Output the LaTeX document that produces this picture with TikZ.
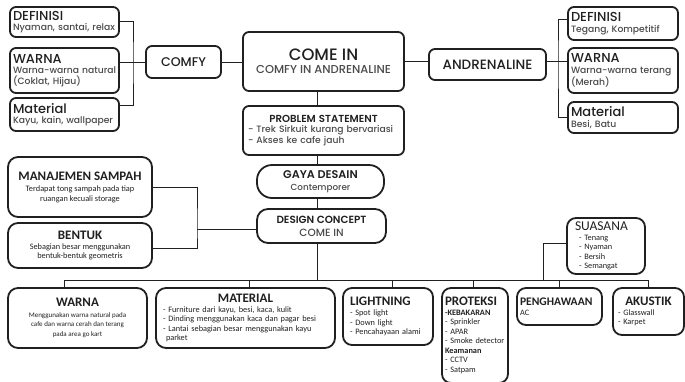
\documentclass[tikz,border=0pt]{standalone}
\usepackage{fontspec}
\setmainfont{Poppins}[UprightFont=* Medium, BoldFont=* SemiBold]
\newfontfamily\calfont{Carlito}
\usepackage{tikz}
\usetikzlibrary{positioning,calc}

\definecolor{ink}{HTML}{202020}
\definecolor{txt}{HTML}{4A4A4A}

\newcommand{\headsize}{\fontsize{13}{14}\selectfont}
\newcommand{\bodysize}{\fontsize{9.2}{10.5}\selectfont}
\newcommand{\tinysize}{\calfont\fontsize{8.3}{9.5}\selectfont\color{txt}}
\newcommand{\boldhead}{\fontsize{13}{14}\selectfont\bfseries}

\tikzset{
  box/.style={draw=ink, line width=1.8pt, rounded corners=6pt, inner sep=3pt, text=ink},
  link/.style={draw=ink, line width=1pt},
}

\begin{document}
\begin{tikzpicture}[x=1pt, y=-1pt]
    \useasboundingbox (0,0) rectangle (685,381);

    % left group
    \node[box, text width=103pt, minimum height=30pt, align=left, font=\bodysize] (defl) at (64.5,22)
        {{\headsize DEFINISI}\\{\color{txt}Nyaman, santai, relax}};
    \node[box, text width=103pt, minimum height=45pt, align=left, font=\bodysize] (warl) at (64.5,70.5)
        {{\headsize WARNA}\\{\color{txt}Warna-warna natural}\\{\color{txt}(Coklat, Hijau)}};
    \node[box, text width=103pt, minimum height=33pt, align=left, font=\bodysize] (matl) at (64.5,114.5)
        {{\headsize Material}\\{\color{txt}Kayu, kain, wallpaper}};
    \node[box, minimum width=75pt, minimum height=32pt, font=\fontsize{12.6}{14}\selectfont] (comfy) at (183.5,62) {COMFY};

    % centre column
    \node[box, minimum width=161pt, minimum height=59pt, align=center] (comein) at (323.5,61.5)
        {{\fontsize{16.5}{18}\selectfont COME IN}\\[1pt]{\fontsize{11.5}{13}\selectfont\color{txt}COMFY IN ANDRENALINE}};
    \node[box, text width=151pt, minimum height=49pt, inner xsep=5pt, align=left, font=\bodysize] (prob) at (323.5,130.5)
        {\makebox[\linewidth][c]{\fontsize{10.2}{11}\selectfont\bfseries PROBLEM STATEMENT}\\
         {\color{txt}- Trek Sirkuit kurang bervariasi}\\{\color{txt}- Akses ke cafe jauh}};
    \node[box, minimum width=127pt, minimum height=33pt, rounded corners=15pt, align=center] (gaya) at (320.5,181.5)
        {{\fontsize{11.2}{12}\selectfont\bfseries GAYA DESAIN}\\{\fontsize{8.8}{9.5}\selectfont\color{txt}Contemporer}};
    \node[box, minimum width=129pt, minimum height=34pt, rounded corners=11pt, align=center] (dc) at (321.5,226)
        {{\fontsize{10.4}{11}\selectfont\bfseries DESIGN CONCEPT}\\[1pt]{\fontsize{10.5}{12}\selectfont\color{txt}COME IN}};

    % right group
    \node[box, minimum width=117pt, minimum height=31pt, font=\fontsize{13.5}{15}\selectfont] (andre) at (487.5,64.5) {ANDRENALINE};
    \node[box, text width=104pt, minimum height=33pt, align=left, font=\bodysize] (defr) at (623,23.5)
        {{\headsize DEFINISI}\\{\color{txt}Tegang, Kompetitif}};
    \node[box, text width=104pt, minimum height=45pt, align=left, font=\bodysize] (warr) at (623,70.5)
        {{\headsize WARNA}\\{\color{txt}Warna-warna terang}\\{\color{txt}(Merah)}};
    \node[box, text width=104pt, minimum height=31pt, align=left, font=\bodysize] (matr) at (623,117.5)
        {{\headsize Material}\\{\color{txt}Besi, Batu}};

    % middle left
    \node[box, minimum width=144pt, minimum height=60pt, rounded corners=10pt, align=center, font=\tinysize] (mana) at (80,187)
        {{\boldhead\color{ink} MANAJEMEN SAMPAH}\\[2pt]Terdapat tong sampah pada tiap\\ruangan kecuali storage};
    \node[box, minimum width=144pt, minimum height=45pt, rounded corners=10pt, align=center, font=\tinysize] (bent) at (80,245.5)
        {{\boldhead\color{ink} BENTUK}\\Sebagian besar menggunakan\\bentuk-bentuk geometris};
    \node[box, text width=62pt, minimum height=56pt, inner xsep=8pt, rounded corners=9pt, align=left, font=\tinysize] (suas) at (606,246)
        {{\calfont\fontsize{13.5}{13}\selectfont\color{ink}SUASANA}\\
         \hspace*{4pt}- Tenang\\\hspace*{4pt}- Nyaman\\\hspace*{4pt}- Bersih\\\hspace*{4pt}- Semangat};

    % bottom row
    \node[box, minimum width=139pt, minimum height=60pt, rounded corners=10pt, align=center,
          font=\calfont\fontsize{7}{9.5}\selectfont\color{txt}] (warb) at (77.5,318)
        {{\boldhead\color{ink} WARNA}\\[1pt]Menggunakan warna natural pada\\cafe dan warna cerah dan terang\\pada area go kart};
    \node[box, text width=165pt, minimum height=60pt, inner xsep=7pt, rounded corners=10pt, align=left, font=\tinysize] (matb) at (245.5,318)
        {\makebox[\linewidth][c]{\boldhead\color{ink}MATERIAL}\\
         - Furniture dari kayu, besi, kaca, kulit\\- Dinding menggunakan kaca dan pagar besi\\
         - Lantai sebagian besar menggunakan kayu\\\hspace*{3pt}parket};
    \node[box, text width=76pt, minimum height=57pt, inner xsep=7pt, rounded corners=9pt, align=left, font=\tinysize] (ligh) at (388,316.5)
        {{\boldhead\color{ink} LIGHTNING}\\[1pt]- Spot light\\- Down light\\- Pencahayaan alami\\[3pt]};
    \node[box, text width=60pt, minimum height=95pt, inner xsep=3pt, rounded corners=9pt, align=left, font=\tinysize] (prot) at (475,335.5)
        {{\boldhead\color{ink}PROTEKSI}\\{\bfseries\color{ink}-KEBAKARAN}\\- Sprinkler\\- APAR\\- Smoke detector\\
         {\bfseries\color{ink}Keamanan}\\- CCTV\\- Satpam};
    \node[box, text width=79pt, minimum height=37pt, inner xsep=3pt, rounded corners=9pt, align=left, font=\tinysize] (peng) at (559.5,306.5)
        {{\fontsize{11.6}{13}\selectfont\bfseries\color{ink}PENGHAWAAN}\\AC};
    \node[box, text width=61pt, minimum height=47pt, inner xsep=5pt, rounded corners=9pt, align=left, font=\tinysize] (akus) at (648.5,311.5)
        {\makebox[\linewidth][c]{\boldhead\color{ink}AKUSTIK}\\- Glasswall\\- Karpet\\[4pt]};

    % junction points
    \coordinate (cl) at (133,62);
    \coordinate (cr) at (558,61);
    \coordinate (lj) at (197,229);
    \coordinate (busl) at (64,280);
    \coordinate (sj) at (543,280);

    % connectors top
    \draw[link] (comfy.west |- cl) -- (cl);
    \draw[link] ([yshift=1pt]defl.east) -| (cl) |- ([yshift=9.5pt]matl.east);
    \draw[link] (warl.east |- cl) -- (cl);
    \draw[link] (comfy.east |- cl) -- (cl -| comein.west);
    \draw[link] (comein.east |- cr) -- (andre.west |- cr);
    \draw[link] (andre.east |- cr) -- (cr);
    \draw[link] ([yshift=4.5pt]defr.west) -| (cr) |- (matr.west);
    \draw[link] (warr.west |- cr) -- (cr);

    % centre spine
    \draw[link] (comein.south -| 317,0) -- (prob.north -| 317,0);
    \draw[link] (prob.south -| 317,0) -- (gaya.north -| 317,0);
    \draw[link] (gaya.south -| 317,0) -- (dc.north -| 317,0);
    \draw[link] (dc.south -| 317,0) -- (busl -| 317,0);

    % middle left bracket
    \draw[link] (dc.west |- lj) -- (lj);
    \draw[link] (mana.east) -| (lj) |- ([yshift=-2.5pt]bent.east);

    % bottom bus
    \draw[link] (warb.north -| busl) -- (busl) -- (busl -| akus.north) -- (akus.north);
    \draw[link] (matb.north -| 249,0) -- (busl -| 249,0);
    \draw[link] (ligh.north -| 392,0) -- (busl -| 392,0);
    \draw[link] (prot.north -| 473,0) -- (busl -| 473,0);
    \draw[link] (peng.north) -- (busl -| peng.north);
    \draw[link] ([yshift=3pt]suas.west) -| (sj);
\end{tikzpicture}
\end{document}
